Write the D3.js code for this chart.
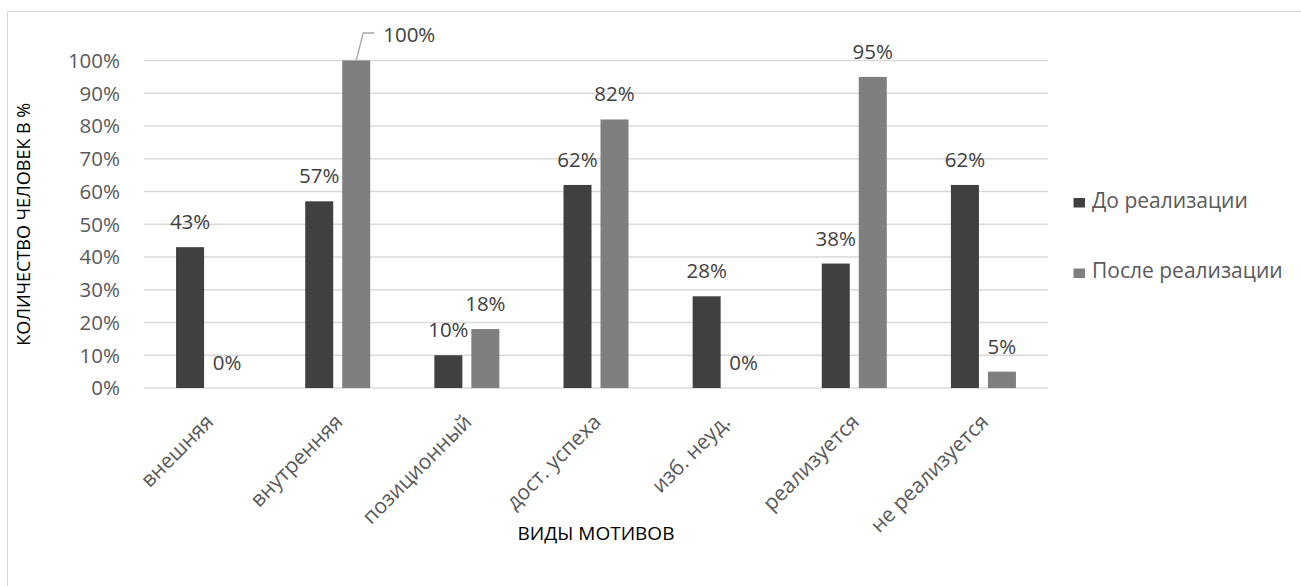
<!DOCTYPE html>
<html><head><meta charset="utf-8">
<script src="https://cdn.jsdelivr.net/npm/d3@7"></script>
<style>
html,body{margin:0;padding:0;background:#fff;}
svg{display:block;font-family:"Open Sans",sans-serif;}
</style></head>
<body><svg id="c" width="1301" height="586"></svg>
<script>
const categories = ["внешняя","внутренняя","позиционный","дост. успеха","изб. неуд.","реализуется","не реализуется"];
const seriesNames = ["До реализации","После реализации"];
const before = [43,57,10,62,28,38,62];
const after = [0,100,18,82,0,95,5];
const yTicks = [0,10,20,30,40,50,60,70,80,90,100];
const colors = ["#404040","#7f7f7f"];

const svg = d3.select("#c");
const plot = {left:144, right:1048, top:60.5, bottom:388};

svg.append("rect").attr("x",7.5).attr("y",11.5).attr("width",1400).attr("height",700)
  .attr("fill","none").attr("stroke","#d9d9d9").attr("stroke-width",1);

const x = d3.scaleBand().domain(categories).range([plot.left, plot.right]).paddingInner(0).paddingOuter(0);
const y = d3.scaleLinear().domain([0,100]).range([plot.bottom, plot.top]);
const barW = 28, gap = 9;

// gridlines
svg.append("g").selectAll("line").data(yTicks).join("line")
  .attr("x1",plot.left).attr("x2",plot.right)
  .attr("y1",d=>y(d)).attr("y2",d=>y(d))
  .attr("stroke","#d9d9d9").attr("stroke-width",1.3);

// y tick labels
const yAxis = d3.axisLeft(y).tickValues(yTicks).tickFormat(d=>d+"%").tickSize(0).tickPadding(0);
const ga = svg.append("g").attr("transform",`translate(120,0)`).call(yAxis);
ga.select(".domain").remove();
ga.selectAll("text").attr("font-family","Open Sans").attr("font-size",20.5).attr("fill","#595959").attr("dy","0.34em");

const series = [before, after];
const offs = [-(gap/2+barW), gap/2];
const data = [];
series.forEach((vals,si)=>vals.forEach((v,i)=>data.push({si, cat:categories[i], v})));

svg.append("g").selectAll("rect").data(data).join("rect")
  .attr("x",d=>x(d.cat)+x.bandwidth()/2+offs[d.si])
  .attr("width",barW)
  .attr("y",d=>y(d.v))
  .attr("height",d=>y(0)-y(d.v))
  .attr("fill",d=>colors[d.si]);

// labels
const lab = svg.append("g");
data.forEach(d=>{
  const cx = x(d.cat)+x.bandwidth()/2+offs[d.si]+barW/2;
  if (d.v===100) {
    const ty = y(d.v);
    lab.append("polyline")
      .attr("points",`${cx},${ty} ${cx+7},${ty-27.5} ${cx+18},${ty-27.5}`)
      .attr("fill","none").attr("stroke","#a6a6a6").attr("stroke-width",1.3);
    lab.append("text").attr("x",cx+27).attr("y",ty-18.5)
      .attr("font-size",20.5).attr("fill","#404040").text(d.v+"%");
  } else {
    lab.append("text").attr("x",cx).attr("y",y(d.v)-18)
      .attr("text-anchor","middle").attr("font-size",20.5).attr("fill","#404040").text(d.v+"%");
  }
});

// x category labels
svg.append("g").selectAll("text").data(categories).join("text")
  .attr("transform",d=>`translate(${x(d)+x.bandwidth()/2+1},${plot.bottom+30}) rotate(-45)`)
  .attr("text-anchor","end").attr("dy","0.35em")
  .attr("font-size",21).attr("fill","#595959").text(d=>d);

// axis titles
svg.append("text").attr("x",(plot.left+plot.right)/2).attr("y",540)
  .attr("text-anchor","middle").attr("font-size",19).attr("fill","#000").text("ВИДЫ МОТИВОВ");
svg.append("text").attr("transform",`translate(29.5,${(plot.top+plot.bottom)/2}) rotate(-90)`)
  .attr("text-anchor","middle").attr("font-size",18).attr("fill","#000").text("КОЛИЧЕСТВО ЧЕЛОВЕК В %");

// legend
const leg = svg.append("g");
const legBase = [207.5, 278];
seriesNames.forEach((n,i)=>{
  leg.append("rect").attr("x",1073.5).attr("y",legBase[i]-9.5).attr("width",11.5).attr("height",9.5).attr("fill",colors[i]);
  leg.append("text").attr("x",1092).attr("y",legBase[i])
    .attr("font-size",21).attr("fill","#595959").text(n);
});
</script>
</body></html>
